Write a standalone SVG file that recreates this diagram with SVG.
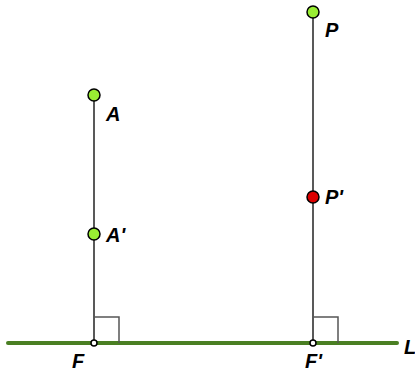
<svg xmlns="http://www.w3.org/2000/svg" width="415" height="374" viewBox="0 0 415 374">
<style>
.lbl{font-family:"Liberation Sans",Arial,sans-serif;font-weight:bold;font-style:italic;font-size:20px;fill:#000}
.seg{stroke:#222;stroke-width:1.5;fill:none}
.ra{stroke:#555;stroke-width:1.5;fill:none}
.pt{stroke:#000;stroke-width:1.5}
.foot{fill:#fff;stroke:#000;stroke-width:1.5}
</style>
<rect width="415" height="374" fill="#fff"/>
<g id="connectors">
<line x1="8" y1="343" x2="397" y2="343" stroke="#4a7f23" stroke-width="4" stroke-linecap="round"/>
<line class="seg" x1="94" y1="95" x2="94" y2="343"/>
<line class="seg" x1="313" y1="12" x2="313" y2="343"/>
<polyline class="ra" points="94,317 119,317 119,343"/>
<polyline class="ra" points="313,317 338,317 338,343"/>
</g>
<g id="L"><text class="lbl" x="404" y="354">L</text></g>
<g id="A"><circle class="pt" cx="94" cy="95" r="6" fill="#99ee33"/><text class="lbl" x="106" y="121">A</text></g>
<g id="A1"><circle class="pt" cx="94" cy="234" r="6" fill="#99ee33"/><text class="lbl" x="106" y="242">A'</text></g>
<g id="F"><circle class="foot" cx="94" cy="343" r="3"/><text class="lbl" x="72" y="368">F</text></g>
<g id="P"><circle class="pt" cx="313" cy="12" r="6" fill="#99ee33"/><text class="lbl" x="325" y="37">P</text></g>
<g id="P1"><circle class="pt" cx="313" cy="197" r="6" fill="#dd0000"/><text class="lbl" x="325" y="204">P'</text></g>
<g id="F1"><circle class="foot" cx="313" cy="343" r="3"/><text class="lbl" x="305" y="368">F'</text></g>
</svg>
